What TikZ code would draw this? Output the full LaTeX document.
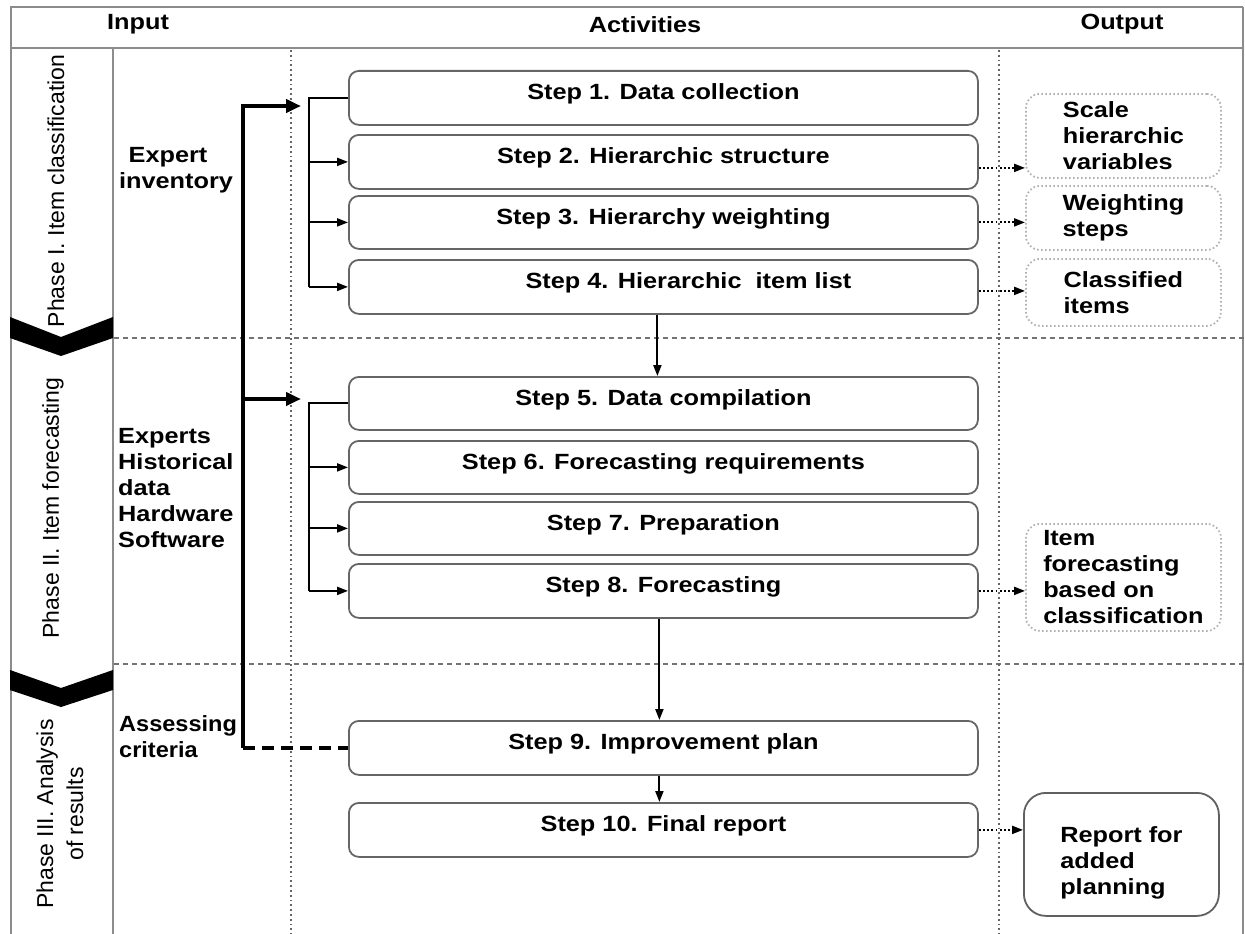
\documentclass[tikz,border=0pt]{standalone}
\usepackage{fontspec}
\setmainfont{Liberation Sans}
\newfontfamily\wide{Liberation Sans}[FakeStretch=1.15]
\newfontfamily\widen{Liberation Sans}[FakeStretch=1.07]
\usetikzlibrary{arrows.meta}
\newcommand\upbox[1]{\raisebox{4pt}[\height][\depth]{#1}}
\begin{document}
\begin{tikzpicture}[x=1pt,y=-1pt,
  framel/.style={draw=gray!90, line width=2pt},
  sepline/.style={draw=gray!90!black, line width=1.2pt, dash pattern=on 5pt off 4pt},
  vsep/.style={draw=gray!80!black, line width=2pt, dash pattern=on 1.8pt off 3pt},
  bfw/.style={font=\wide\bfseries\fontsize{22}{26}\selectfont},
  stepbox/.style={bfw, draw=gray!80!black, line width=1.8pt, rounded corners=10pt,
    minimum width=629pt, anchor=north west, inner sep=0pt},
  outbox/.style={bfw, draw=gray!60, line width=1.8pt, dash pattern=on 1.6pt off 2.4pt,
    rounded corners=14pt, minimum width=195pt, anchor=north west, align=left, inner sep=0pt},
  repbox/.style={draw=gray!75!black, line width=1.8pt, rounded corners=22pt,
    minimum width=195pt, minimum height=123pt, anchor=north west, inner sep=0pt},
  intext/.style={bfw, align=left, inner sep=0pt},
  phase/.style={font=\fontsize{23}{30}\selectfont, rotate=90, align=center, inner sep=0pt},
  chev/.style={fill=black},
  thickl/.style={line width=4.2pt, black},
  thinl/.style={line width=2pt, black},
  bigtip/.style={-{Triangle[length=15pt,width=13pt]}},
  smalltip/.style={-{Triangle[length=11pt,width=8pt]}},
  dotarrow/.style={line width=2pt, black, dash pattern=on 1.8pt off 2.4pt,
    -{Triangle[length=11pt,width=8pt]}}
]
\useasboundingbox (0,0) rectangle (1245,934);

% frame
\draw[framel] (10,7) -- (1243,7);
\draw[framel] (10,48) -- (1243,48);
\draw[framel] (11,7) -- (11,934);
\draw[framel] (1243,7) -- (1243,934);
\draw[framel] (113,48) -- (113,934);

% separators
\draw[sepline] (114,338) -- (1245,338);
\draw[sepline] (114,664) -- (1245,664);
\draw[vsep] (291,50) -- (291,934);
\draw[vsep] (999,50) -- (999,934);

% headers
\node[bfw] (hin) at (138,24) {Input};
\node[bfw] (hact) at (645,25) {Activities};
\node[bfw] (hout) at (1122,24) {Output};

% chevrons
\fill[chev] (10,317) -- (61,337) -- (113,317) -- (113,338) -- (61,356) -- (10,338) -- cycle;
\fill[chev] (10,670) -- (61,688) -- (113,670) -- (113,690) -- (61,707) -- (10,690) -- cycle;

% phase labels
\node[phase] (p1) at (56,191) {Phase I. Item classification};
\node[phase] (p2) at (53,508) {Phase II. Item forecasting};
\node[phase] (p3) at (60,814) {Phase III. Analysis\\of results};

% input texts
\node[bfw, align=center, inner sep=0pt] (in1) at (176,170) {\hspace*{-16pt}Expert\\inventory};
\node[intext, anchor=west] (in2) at (118,488) {Experts\\Historical\\data\\Hardware\\Software};
\node[intext, anchor=west, font=\widen\bfseries\fontsize{22}{26}\selectfont] (in3) at (119,737) {Assessing\\criteria};

% step boxes
\node[stepbox, minimum height=54pt] (s1) at (348,70) {\upbox{Step 1. Data collection}};
\node[stepbox, minimum height=54pt] (s2) at (348,134) {\upbox{Step 2. Hierarchic structure}};
\node[stepbox, minimum height=53pt] (s3) at (348,195) {\upbox{Step 3. Hierarchy weighting}};
\node[stepbox, minimum height=54pt] (s4) at (348,259) {\upbox{\hspace*{50pt}Step 4. Hierarchic\ \ item list}};
\node[stepbox, minimum height=53pt] (s5) at (348,376) {\upbox{Step 5. Data compilation}};
\node[stepbox, minimum height=53pt] (s6) at (348,440) {\upbox{Step 6. Forecasting requirements}};
\node[stepbox, minimum height=53pt] (s7) at (348,501) {\upbox{Step 7. Preparation}};
\node[stepbox, minimum height=54pt] (s8) at (348,563) {\upbox{Step 8. Forecasting}};
\node[stepbox, minimum height=54pt] (s9) at (348,720) {\upbox{Step 9. Improvement plan}};
\node[stepbox, minimum height=54pt] (s10) at (348,802) {\upbox{Step 10. Final report}};

% output boxes
\node[outbox, minimum height=84pt] (o1) at (1025,93) {Scale\\hierarchic\\variables};
\node[outbox, minimum height=64pt] (o2) at (1025,185) {Weighting\\steps};
\node[outbox, minimum height=67pt] (o3) at (1025,258) {Classified\\items};
\node[outbox, minimum height=107pt] (o4) at (1025,523) {Item\\forecasting\\based on\\classification};
\node[repbox] (o5) at (1023,792) {};
\node[intext] (o5t) at ([yshift=-8pt]o5.center) {Report for\\added\\planning};

% input trunk
\coordinate (tx) at (243,0);
\coordinate (j1) at (301,106);
\coordinate (j2) at (301,399);
\coordinate (bx) at (309,0);
\draw[thickl, bigtip] (tx |- s9.west) -- (tx |- j1) -- (j1);
\draw[thickl, bigtip] (tx |- j2) -- (j2);
\draw[thickl, dash pattern=on 12pt off 7pt] (tx |- s9.west) -- (s9.west);

% phase I bracket
\draw[thinl] (bx |- s4.west) -- (bx |- s1.west) -- (s1.west);
\draw[thinl, smalltip] (bx |- s2.west) -- (s2.west);
\draw[thinl, smalltip] (bx |- s3.west) -- (s3.west);
\draw[thinl, smalltip] (bx |- s4.west) -- (s4.west);

% phase II bracket
\draw[thinl] (bx |- s8.west) -- (bx |- s5.west) -- (s5.west);
\draw[thinl, smalltip] (bx |- s6.west) -- (s6.west);
\draw[thinl, smalltip] (bx |- s7.west) -- (s7.west);
\draw[thinl, smalltip] (bx |- s8.west) -- (s8.west);

% flow between steps
\draw[thinl, smalltip] ([xshift=-6pt]s4.south) -- ([xshift=-6pt]s5.north);
\draw[thinl, smalltip] ([xshift=-4pt]s8.south) -- ([xshift=-4pt]s9.north);
\draw[thinl, smalltip] ([xshift=-4pt]s9.south) -- ([xshift=-4pt]s10.north);

% outputs
\draw[dotarrow] ([yshift=-6pt]s2.east) -- ([yshift=-6pt]s2.east -| o1.west);
\draw[dotarrow] (s3.east) -- (s3.east -| o2.west);
\draw[dotarrow] ([yshift=-4pt]s4.east) -- ([yshift=-4pt]s4.east -| o3.west);
\draw[dotarrow] (s8.east) -- (s8.east -| o4.west);
\draw[dotarrow] (s10.east) -- (s10.east -| o5.west);
\end{tikzpicture}
\end{document}
